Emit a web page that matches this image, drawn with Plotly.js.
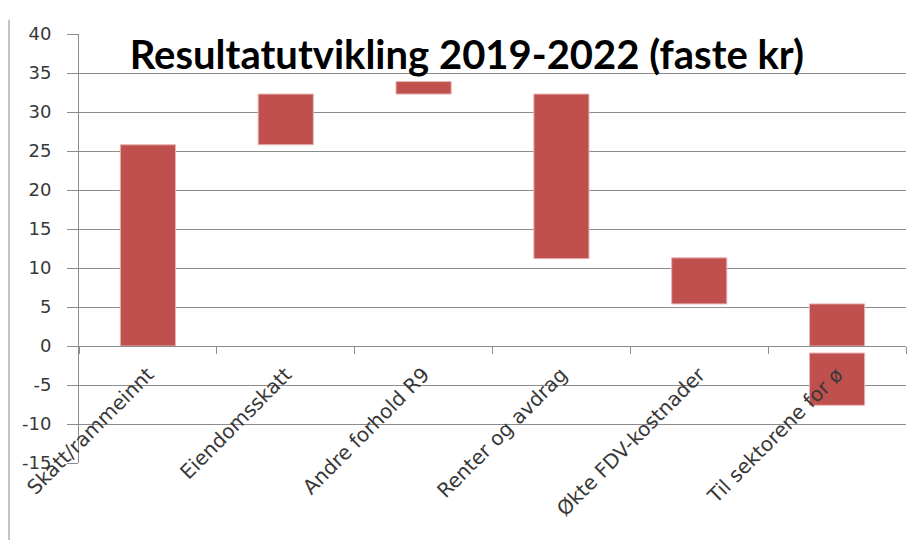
<!DOCTYPE html>
<html>
<head>
<meta charset="utf-8">
<script src="https://cdn.plot.ly/plotly-3.0.1.min.js"></script>
<style>html,body{margin:0;padding:0;background:#fff;}#chart{width:919px;height:540px;}</style>
</head>
<body>
<div id="chart"></div>
<script>
const categories = ["Skatt/rammeinnt", "Eiendomsskatt", "Andre forhold R9", "Renter og avdrag", "Økte FDV-kostnader", "Til sektorene for ø"];
const barBottom = [0, 25.8, 32.3, 11.2, 5.4, 0];
const barTop = [25.8, 32.3, 33.9, 32.3, 11.3, 5.4];
const lowerCategory = ["Til sektorene for ø"];
const lowerBottom = [-7.6];
const lowerTop = [-0.9];
const yTicks = [40, 35, 30, 25, 20, 15, 10, 5, 0, -5, -10, -15];

const barColor = "#C0504D";
const traces = [
  {
    type: "bar",
    x: categories,
    base: barBottom,
    y: barTop.map((t, i) => t - barBottom[i]),
    width: 0.4,
    marker: {color: barColor, line: {color: "#E8B3B2", width: 1}},
    hoverinfo: "skip"
  },
  {
    type: "bar",
    x: lowerCategory,
    base: lowerBottom,
    y: lowerTop.map((t, i) => t - lowerBottom[i]),
    width: 0.4,
    marker: {color: barColor, line: {color: "#E8B3B2", width: 1}},
    hoverinfo: "skip"
  }
];

const layout = {
  width: 919, height: 540,
  margin: {l: 79, r: 13, t: 34, b: 77},
  paper_bgcolor: "#fff", plot_bgcolor: "#fff",
  showlegend: false,
  barmode: "overlay",
  font: {family: "'DejaVu Sans', sans-serif", color: "#333"},
  title: {
    text: "<b>Resultatutvikling 2019-2022 (faste kr)</b>",
    font: {family: "Lato, sans-serif", size: 40, color: "#000"},
    x: 0.469, xanchor: "center", xref: "paper",
    y: 0.898, yanchor: "middle", yref: "container"
  },
  xaxis: {
    type: "category",
    anchor: "free",
    position: 15 / 55,
    showline: true, linecolor: "#8c8c8c", linewidth: 1,
    showgrid: false, zeroline: false,
    ticks: "outside", tickson: "boundaries", ticklen: 7, tickcolor: "#8c8c8c",
    tickangle: -45,
    ticklabelstandoff: 8,
    tickfont: {family: "'DejaVu Sans', sans-serif", size: 20, color: "#383838"}
  },
  yaxis: {
    range: [-15, 40],
    tickvals: yTicks,
    ticktext: yTicks.map(String),
    showline: true, linecolor: "#8c8c8c", linewidth: 1,
    showgrid: true, gridcolor: "#8c8c8c", gridwidth: 1,
    zeroline: false,
    ticks: "outside", ticklen: 11, tickcolor: "#8c8c8c",
    ticklabelstandoff: 12,
    tickfont: {family: "'DejaVu Sans', sans-serif", size: 18, color: "#383838"}
  },
  shapes: [
    {type: "line", xref: "paper", yref: "paper",
     x0: -0.0846, x1: -0.0846, y0: 1.033, y1: -0.2,
     line: {color: "#b0b0b0", width: 1.5}}
  ]
};

Plotly.newPlot("chart", traces, layout, {staticPlot: true, displayModeBar: false});
</script>
</body>
</html>
